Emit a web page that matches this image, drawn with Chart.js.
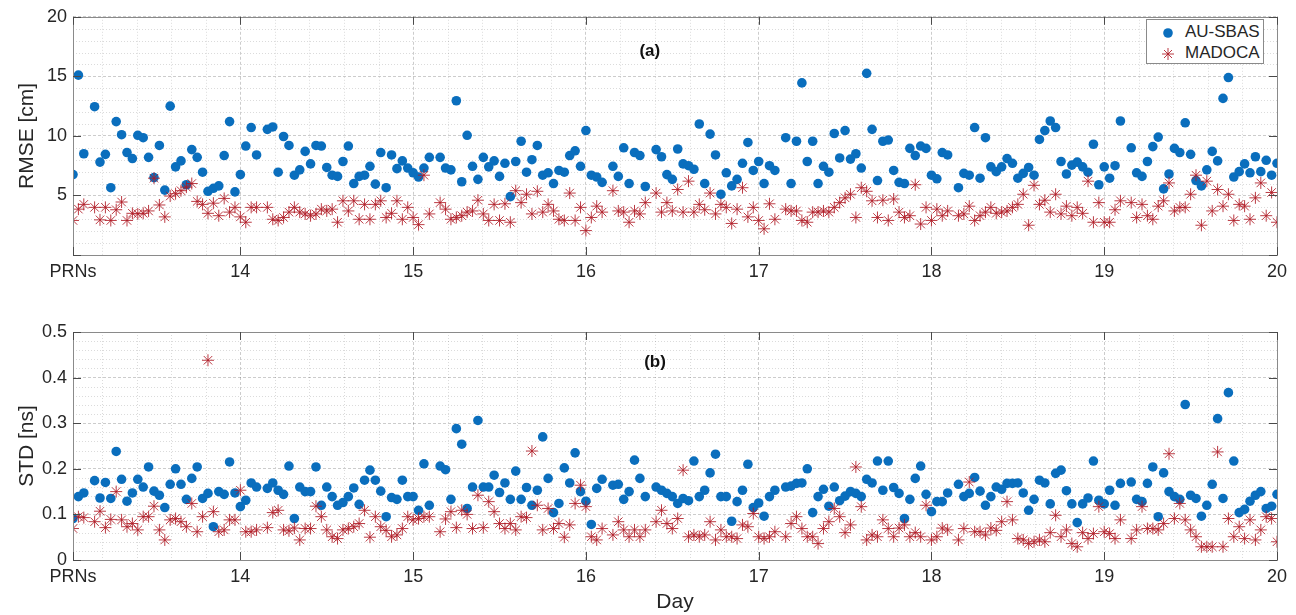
<!DOCTYPE html>
<html>
<head>
<meta charset="utf-8">
<script src="https://cdn.jsdelivr.net/npm/chart.js@4.4.1/dist/chart.umd.min.js"></script>
<style>
    body { margin: 0; background: #fff; width: 1296px; height: 615px; overflow: hidden; position: relative; font-family: "Liberation Sans", Arial, sans-serif; }
    #rmseChart { position: absolute; left: 0; top: 0; }
    #stdChart { position: absolute; left: 0; top: 290px; }
    .legend { position: absolute; left: 1146px; top: 19px; width: 118px; height: 45px; box-sizing: border-box; border: 1px solid #8a8a8a; background: #fff; color: #262626; font-size: 17px; }
    .legend svg { position: absolute; left: 13px; }
    .legend span { position: absolute; left: 38px; line-height: 20px; }
</style>
</head>
<body>
<canvas id="rmseChart" width="1296" height="290"></canvas>
<canvas id="stdChart" width="1296" height="325"></canvas>
<div class="legend">
    <svg style="top:5px" width="16" height="16"><circle cx="8" cy="8" r="4.8" fill="#0a6ebd"/></svg>
    <span style="top:2px">AU-SBAS</span>
    <svg style="top:26px" width="16" height="16" stroke="rgba(175,25,35,0.85)" stroke-width="1">
        <line x1="8" y1="2" x2="8" y2="14"/><line x1="2" y1="8" x2="14" y2="8"/>
        <line x1="4" y1="4" x2="12" y2="12"/><line x1="12" y1="4" x2="4" y2="12"/>
    </svg>
    <span style="top:23px">MADOCA</span>
</div>
<script>
// Axis ticks
const dayTicks = [13 + 1 / 32, 14, 15, 16, 17, 18, 19, 20];
const dayLabels = ['PRNs', '14', '15', '16', '17', '18', '19', '20'];
const rmseTicks = [0, 5, 10, 15, 20];
const rmseLabels = ['', '5', '10', '15', '20'];
const stdTicks = [0, 0.1, 0.2, 0.3, 0.4, 0.5];
const stdLabels = ['0', '0.1', '0.2', '0.3', '0.4', '0.5'];
const prnsPerDay = 32;

// RMSE [cm], one row per day (PRN 1..32)
const rmseAuSbas = [
    6.75, 15.1, 8.5, null, 12.45, 7.8, 8.45, 5.65, 11.2, 10.1, 8.6, 8.1, 10.05, 9.85, 8.2, 6.5, 9.2, 5.45, 12.5, 7.4, 7.9, 5.9, 8.85, 8.2, 6.95, 5.35, 5.6, 5.8, 8.35, 11.2, 5.3, 6.75,
    9.15, 10.7, 8.4, null, 10.55, 10.75, 6.95, 9.95, 9.2, 6.7, 7.15, 8.7, 7.65, 9.2, 9.15, 7.35, 6.7, 6.6, 7.85, 9.15, 6.0, 6.6, 6.7, 7.45, 5.95, 8.6, 5.65, 8.4, 7.25, 7.9, 7.3, 6.9,
    6.55, 7.3, 8.2, null, 8.2, 7.3, 7.15, 12.95, 6.15, 10.05, 7.45, 6.35, 8.2, 7.4, 7.9, 6.6, 7.7, 4.9, 7.85, 9.55, 6.95, 8.0, 9.2, 6.7, 6.9, 6.0, 7.1, 6.95, 8.35, 8.75, 7.45, 10.45,
    6.7, 6.55, 6.1, null, 7.45, 6.6, 9.0, 6.0, 8.6, 8.35, 5.75, null, 8.85, 8.25, 6.75, 6.35, 8.9, 7.65, 7.5, 7.2, 11.0, 6.0, 10.15, 8.4, 5.1, 6.9, 5.8, 6.35, 7.7, 9.45, 7.1, 7.85,
    6.0, 7.5, 7.1, null, 9.85, 6.0, 9.55, 14.45, 7.85, 9.55, 6.0, 7.45, 6.95, 10.2, 8.15, 10.45, 8.05, 8.5, 7.3, 15.25, 10.55, 6.25, 9.55, 9.65, 7.1, 6.1, 6.0, 8.95, 8.35, 9.15, 8.95, 6.7,
    6.4, 8.6, 8.4, null, 5.65, 6.85, 6.7, 10.7, 6.45, 9.85, 7.4, 7.0, 7.4, 8.1, 7.7, 6.45, 6.85, 7.35, 6.7, 9.7, 10.45, 11.25, 10.7, 7.85, 6.8, 7.55, 7.8, 7.4, 6.95, 9.3, 5.9, 7.4,
    6.45, 7.5, 11.25, null, 9.0, 6.9, 6.6, 7.85, 9.1, 9.9, 5.55, 6.8, 8.95, 8.6, 11.1, 8.45, 6.25, 5.8, 7.15, 8.7, 7.9, 13.15, 14.9, 6.55, 7.0, 7.65, 6.9, 8.25, 7.0, 7.95, 6.7, 7.7
];
const rmseMadoca = [
    2.9, 3.85, 4.25, null, 4.0, 2.95, 4.0, 2.9, 3.8, 4.45, 2.9, 3.5, 3.45, 3.5, 3.7, 6.45, 4.2, 3.2, 4.95, 5.15, 5.4, 5.7, 6.0, 4.5, 4.25, 3.5, 4.35, 3.3, 4.75, 3.6, 4.0, 3.2,
    2.75, 4.0, 4.0, null, 4.0, 3.0, 2.9, 3.15, 3.6, 4.0, 3.6, 3.45, 3.3, 3.45, 3.85, 3.7, 3.85, 2.75, 4.55, 3.7, 4.55, 3.0, 4.25, 3.0, 4.25, 4.55, 3.15, 3.5, 4.55, 3.0, 4.0, 3.15,
    2.55, 6.7, 3.45, null, 4.4, 3.85, 3.0, 3.15, 3.3, 3.6, 3.7, 4.6, 3.45, 2.9, 4.25, 2.9, 4.3, 2.75, 5.4, 4.4, 5.1, 3.45, 5.35, 3.6, 4.25, 3.7, 3.0, 2.9, 5.2, 2.9, 4.0, 2.05,
    3.15, 4.1, 3.6, null, 5.4, 3.7, 3.6, 2.75, 3.7, 3.45, 4.4, null, 5.2, 3.6, 4.4, 3.7, 5.5, 3.6, 6.2, 3.6, 4.25, 3.8, 5.2, 3.45, 4.25, 4.0, 2.65, 3.85, 5.65, 3.2, 4.0, 2.9,
    2.2, 4.3, 3.0, null, 3.85, 3.7, 3.7, 2.9, 2.75, 3.6, 3.6, 3.7, 3.6, 4.0, 4.4, 4.8, 5.1, 3.15, 5.65, 5.35, 4.55, 3.15, 4.6, 2.9, 4.7, 3.6, 3.15, 3.3, 5.9, 2.6, 4.0, 2.9,
    3.85, 3.3, 3.7, null, 3.3, 3.45, 4.1, 2.9, 3.3, 3.6, 4.0, 3.5, 3.6, 3.7, 4.0, 4.25, 5.1, 2.5, 5.85, 4.25, 4.6, 3.6, 5.1, 3.45, 4.1, 3.3, 4.0, 3.5, 6.2, 2.75, 4.4, 2.75,
    2.75, 3.8, 4.55, null, 4.4, 3.15, 4.25, 3.3, 3.0, 4.1, 4.55, 6.05, 3.7, 4.0, 4.0, 5.1, 6.7, 2.5, 6.2, 3.7, 5.5, 4.1, 5.1, 2.9, 4.25, 4.1, 3.0, 4.8, 6.05, 3.3, 5.25, 2.75
];

// STD [ns], one row per day (PRN 1..32)
const stdAuSbas = [
    0.091, 0.139, 0.147, null, 0.174, 0.136, 0.17, 0.135, 0.238, 0.177, 0.129, 0.147, 0.177, 0.16, 0.204, 0.151, 0.142, 0.115, 0.166, 0.2, 0.166, 0.133, 0.179, 0.204, 0.135, 0.146, 0.073, 0.15, 0.144, 0.215, 0.147, 0.117,
    0.131, 0.169, 0.16, null, 0.157, 0.169, 0.153, 0.144, 0.206, 0.091, 0.16, 0.15, 0.15, 0.204, 0.12, 0.16, 0.139, 0.12, 0.126, 0.139, 0.158, 0.122, 0.175, 0.197, 0.175, 0.151, 0.095, 0.137, 0.133, 0.175, 0.139, 0.139,
    0.109, 0.211, 0.12, null, 0.206, 0.198, 0.133, 0.288, 0.254, 0.113, 0.16, 0.306, 0.16, 0.16, 0.186, 0.148, 0.169, 0.133, 0.195, 0.133, 0.159, 0.12, 0.153, 0.27, 0.179, 0.104, 0.124, 0.202, 0.169, 0.235, 0.15, 0.129,
    0.078, 0.157, 0.177, null, 0.164, 0.166, 0.133, 0.15, 0.219, 0.179, 0.139, null, 0.16, 0.153, 0.146, 0.139, 0.124, 0.135, 0.13, 0.217, 0.139, 0.153, 0.191, 0.232, 0.139, 0.139, 0.085, 0.128, 0.153, 0.21, 0.115, 0.125,
    0.096, 0.139, 0.153, null, 0.16, 0.162, 0.168, 0.169, 0.2, 0.104, 0.139, 0.155, 0.118, 0.16, 0.13, 0.14, 0.15, 0.146, 0.139, 0.177, 0.169, 0.217, 0.153, 0.217, 0.159, 0.146, 0.091, 0.133, 0.179, 0.206, 0.144, 0.106,
    0.128, 0.128, 0.147, null, 0.166, 0.139, 0.146, 0.181, 0.151, 0.12, 0.139, 0.16, 0.155, 0.168, 0.168, 0.169, 0.147, 0.109, 0.133, 0.175, 0.169, 0.123, 0.19, 0.197, 0.152, 0.123, 0.082, 0.123, 0.136, 0.217, 0.131, 0.123,
    0.153, 0.12, 0.168, null, 0.171, 0.133, 0.128, 0.168, 0.204, 0.095, 0.191, 0.15, 0.139, 0.133, 0.341, 0.142, 0.135, 0.096, 0.12, 0.166, 0.31, 0.135, 0.367, 0.217, 0.104, 0.111, 0.129, 0.142, 0.15, 0.113, 0.118, 0.144
];
const stdMadoca = [
    0.069, 0.095, 0.093, null, 0.084, 0.107, 0.071, 0.089, 0.15, 0.088, 0.073, 0.08, 0.066, 0.095, 0.095, 0.118, 0.066, 0.044, 0.088, 0.091, 0.084, 0.073, 0.124, 0.062, 0.095, 0.438, 0.106, 0.062, 0.066, 0.088, 0.088, 0.153,
    0.062, 0.062, 0.066, null, 0.071, 0.104, 0.109, 0.066, 0.064, 0.07, 0.044, 0.069, 0.069, 0.118, 0.095, 0.066, 0.051, 0.047, 0.066, 0.069, 0.073, 0.08, 0.109, 0.05, 0.095, 0.073, 0.065, 0.051, 0.055, 0.069, 0.095, 0.088,
    0.091, 0.095, 0.095, null, 0.062, 0.09, 0.106, 0.071, 0.109, 0.1, 0.069, 0.142, 0.071, 0.128, 0.106, 0.08, 0.069, 0.08, 0.066, 0.095, 0.093, 0.239, 0.12, 0.066, 0.113, 0.069, 0.08, 0.05, 0.077, 0.124, 0.164, 0.117,
    0.051, 0.044, 0.069, null, 0.055, 0.084, 0.066, 0.051, 0.066, 0.051, 0.066, null, 0.084, 0.109, 0.08, 0.069, 0.091, 0.197, 0.051, 0.055, 0.051, 0.055, 0.084, 0.044, 0.066, 0.051, 0.051, 0.047, 0.077, 0.073, 0.102, 0.051,
    0.047, 0.051, 0.062, null, 0.051, 0.08, 0.095, 0.069, 0.051, 0.051, 0.036, 0.069, 0.084, 0.113, 0.095, 0.06, 0.077, 0.204, 0.117, 0.044, 0.055, 0.051, 0.088, 0.069, 0.051, 0.07, 0.077, 0.051, 0.06, 0.051, 0.12, 0.044,
    0.051, 0.07, 0.066, null, 0.044, 0.069, 0.171, 0.062, 0.062, 0.055, 0.07, 0.065, 0.084, 0.128, 0.088, 0.047, 0.044, 0.036, 0.04, 0.044, 0.04, 0.06, 0.098, 0.051, 0.066, 0.036, 0.029, 0.06, 0.047, 0.058, 0.117, 0.062,
    0.058, 0.047, 0.088, null, 0.047, 0.066, 0.117, 0.069, 0.069, 0.066, 0.08, 0.233, 0.091, 0.124, 0.088, 0.066, 0.051, 0.029, 0.029, 0.029, 0.237, 0.029, 0.091, 0.051, 0.073, 0.047, 0.088, 0.044, 0.066, 0.095, 0.091, 0.04
];

const fontFamily = '"Liberation Sans", Arial, sans-serif';
const textColor = '#262626';
const blue = '#0a6ebd';
const red = 'rgba(175, 25, 35, 0.85)';

// PRN k of day d sits at d + k/32
function toPoints(values) {
    return values
        .map((v, i) => ({ x: 13 + (i + 1) / prnsPerDay, y: v }))
        .filter(p => p.y !== null);
}

// MATLAB-like axes: dotted minor grid, box, inward ticks, panel tag
const matlabAxes = {
    id: 'matlabAxes',
    beforeDatasetsDraw(chart, args, opts) {
        const { ctx, chartArea: a, scales: { x, y } } = chart;
        ctx.save();
        ctx.strokeStyle = 'rgba(0, 0, 0, 0.14)';
        ctx.lineWidth = 1;
        ctx.setLineDash([1, 2]);
        ctx.beginPath();
        for (let d = 13.2; d < 19.95; d += 0.2) {
            if (Math.abs(d - Math.round(d)) < 0.01) continue;
            const px = Math.round(x.getPixelForValue(d)) + 0.5;
            ctx.moveTo(px, a.top);
            ctx.lineTo(px, a.bottom);
        }
        for (let n = 1; n * opts.minorStep < y.max - 1e-9; n++) {
            const v = n * opts.minorStep;
            const r = v / opts.majorStep;
            if (Math.abs(r - Math.round(r)) < 0.01) continue;
            const py = Math.round(y.getPixelForValue(v)) + 0.5;
            ctx.moveTo(a.left, py);
            ctx.lineTo(a.right, py);
        }
        ctx.stroke();
        ctx.restore();
    },
    afterDatasetsDraw(chart, args, opts) {
        const { ctx, chartArea: a, scales: { x, y } } = chart;
        ctx.save();
        ctx.strokeStyle = '#8a8a8a';
        ctx.lineWidth = 1;
        ctx.strokeRect(Math.round(a.left) + 0.5, Math.round(a.top) + 0.5,
            Math.round(a.right - a.left), Math.round(a.bottom - a.top));
        ctx.strokeStyle = '#4a4a4a';
        ctx.beginPath();
        dayTicks.forEach(v => {
            const px = Math.round(x.getPixelForValue(v)) + 0.5;
            ctx.moveTo(px, a.bottom); ctx.lineTo(px, a.bottom - 8);
            ctx.moveTo(px, a.top); ctx.lineTo(px, a.top + 8);
        });
        opts.yTicks.forEach(v => {
            const py = Math.round(y.getPixelForValue(v)) + 0.5;
            ctx.moveTo(a.left, py); ctx.lineTo(a.left + 8, py);
            ctx.moveTo(a.right, py); ctx.lineTo(a.right - 8, py);
        });
        ctx.stroke();
        ctx.fillStyle = '#111';
        ctx.font = 'bold 17px ' + fontFamily;
        ctx.textAlign = 'center';
        ctx.textBaseline = 'middle';
        ctx.fillText(opts.tag, x.getPixelForValue(opts.tagX), y.getPixelForValue(opts.tagY));
        ctx.restore();
    }
};

function makeChart(canvasId, cfg) {
    const ctx = document.getElementById(canvasId).getContext('2d');
    return new Chart(ctx, {
        type: 'scatter',
        data: {
            datasets: [
                {
                    label: 'AU-SBAS',
                    data: toPoints(cfg.au),
                    pointStyle: 'circle',
                    pointRadius: 4.8,
                    backgroundColor: blue,
                    borderColor: blue,
                    borderWidth: 0,
                    order: 2
                },
                {
                    label: 'MADOCA',
                    data: toPoints(cfg.madoca),
                    pointStyle: 'star',
                    pointRadius: 6,
                    backgroundColor: 'transparent',
                    borderColor: red,
                    borderWidth: 1,
                    order: 1
                }
            ]
        },
        plugins: [matlabAxes],
        options: {
            responsive: false,
            animation: false,
            events: [],
            layout: { padding: { top: cfg.padTop, right: 19, left: 0, bottom: 0 } },
            plugins: {
                legend: { display: false },
                tooltip: { enabled: false },
                matlabAxes: {
                    minorStep: cfg.minorStep,
                    majorStep: cfg.majorStep,
                    yTicks: cfg.yTicks,
                    tag: cfg.tag,
                    tagX: cfg.tagX,
                    tagY: cfg.tagY
                }
            },
            scales: {
                x: {
                    type: 'linear',
                    min: dayTicks[0],
                    max: 20,
                    afterBuildTicks: s => { s.ticks = dayTicks.map(v => ({ value: v })); },
                    afterFit: s => { s.height = cfg.xHeight; },
                    ticks: {
                        callback: (v, i) => dayLabels[i],
                        autoSkip: false,
                        maxRotation: 0,
                        padding: 6,
                        color: textColor,
                        font: { size: 18, family: fontFamily }
                    },
                    grid: { color: 'rgba(0, 0, 0, 0.2)', drawTicks: false },
                    border: { display: false, dash: [3, 2] },
                    title: {
                        display: !!cfg.xTitle,
                        text: cfg.xTitle || '',
                        color: textColor,
                        font: { size: 21, family: fontFamily },
                        padding: { top: 0, bottom: 0 }
                    }
                },
                y: {
                    type: 'linear',
                    min: cfg.yTicks[0],
                    max: cfg.yTicks[cfg.yTicks.length - 1],
                    afterBuildTicks: s => { s.ticks = cfg.yTicks.map(v => ({ value: v })); },
                    afterFit: s => { s.width = 73; },
                    ticks: {
                        callback: (v, i) => cfg.yLabels[i],
                        autoSkip: false,
                        padding: 6,
                        color: textColor,
                        font: { size: 18, family: fontFamily }
                    },
                    grid: { color: 'rgba(0, 0, 0, 0.2)', drawTicks: false },
                    border: { display: false, dash: [3, 2] },
                    title: {
                        display: true,
                        text: cfg.yTitle,
                        color: textColor,
                        font: { size: 21, family: fontFamily },
                        padding: { top: 15, bottom: 0 }
                    }
                }
            }
        }
    });
}

makeChart('rmseChart', {
    au: rmseAuSbas,
    madoca: rmseMadoca,
    yTicks: rmseTicks,
    yLabels: rmseLabels,
    yTitle: 'RMSE [cm]',
    minorStep: 1,
    majorStep: 5,
    padTop: 15,
    xHeight: 35,
    tag: '(a)',
    tagX: 16.37,
    tagY: 17.1
});

makeChart('stdChart', {
    au: stdAuSbas,
    madoca: stdMadoca,
    yTicks: stdTicks,
    yLabels: stdLabels,
    yTitle: 'STD [ns]',
    xTitle: 'Day',
    minorStep: 0.02,
    majorStep: 0.1,
    padTop: 42,
    xHeight: 55,
    tag: '(b)',
    tagX: 16.4,
    tagY: 0.433
});
</script>
</body>
</html>
